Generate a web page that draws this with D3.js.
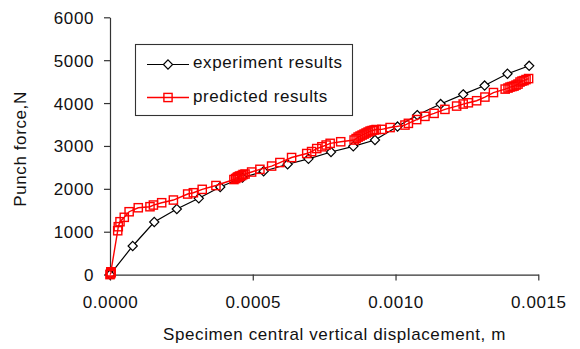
<!DOCTYPE html>
<html><head><meta charset="utf-8">
<script src="https://cdn.jsdelivr.net/npm/d3@7"></script>
<style>
html,body{margin:0;padding:0;background:#fff;}
svg{display:block;font-family:"Liberation Sans",Arial,sans-serif;}
text{fill:#111;font-size:17px;letter-spacing:0.6px;}
</style></head><body>
<svg id="c" width="580" height="349"></svg>
<script>
// Experiment results (displacement m, force N)
const expX = [0, 0.0000795, 0.000155, 0.000234, 0.000311, 0.000386, 0.000464, 0.000538, 0.000622, 0.000695,
  0.000774, 0.000852, 0.000928, 0.001007, 0.001076, 0.001158, 0.001237, 0.001312, 0.001392, 0.001468];
const expY = [0, 667, 1226, 1529, 1779, 2042, 2263, 2410, 2573, 2699,
  2858, 2991, 3138, 3452, 3720, 3977, 4203, 4408, 4683, 4869];

// Predicted results
const predX = [0, 0.000002, 0.000004, 0.000003, 0.000027, 0.000029, 0.000035, 0.000050, 0.000067, 0.000099, 0.000140,
  0.000152, 0.000181, 0.000222, 0.000272, 0.000292, 0.000323, 0.000371, 0.000434, 0.000440, 0.000445,
  0.000448, 0.000452, 0.000455, 0.000461, 0.000466, 0.000473, 0.000496, 0.000525, 0.000566, 0.000595,
  0.000636, 0.000689, 0.000706, 0.000724, 0.000742, 0.000757, 0.000771, 0.000808, 0.000855, 0.000862,
  0.000869, 0.000876, 0.000883, 0.000890, 0.000897, 0.000904, 0.000911, 0.000918, 0.000925, 0.000932,
  0.000952, 0.000981, 0.001033, 0.001045, 0.001074, 0.001103, 0.001135, 0.001173, 0.001214, 0.001237,
  0.001255, 0.001284, 0.001313, 0.001343, 0.001384, 0.001394, 0.001401, 0.001408, 0.001415, 0.001422,
  0.001429, 0.001436, 0.001443, 0.001450, 0.001457, 0.001466];
const predY = [0, 20, 45, 65, 1023, 1117, 1233, 1336, 1466, 1559, 1583,
  1622, 1676, 1739, 1879, 1909, 1988, 2077, 2217, 2240, 2263,
  2275, 2287, 2298, 2310, 2333, 2345, 2392, 2455, 2531, 2613,
  2730, 2823, 2869, 2939, 2981, 3021, 3061, 3098, 3138, 3172,
  3207, 3231, 3254, 3277, 3301, 3324, 3347, 3359, 3371, 3382,
  3387, 3429, 3487, 3527, 3615, 3690, 3760, 3853, 3930, 3977,
  4007, 4054, 4140, 4245, 4326, 4350, 4373, 4385, 4396, 4420,
  4443, 4490, 4513, 4524, 4548, 4571];

const xTicks = [0, 0.0005, 0.0010, 0.0015];
const yTicks = [0, 1000, 2000, 3000, 4000, 5000, 6000];
const seriesNames = ["experiment results", "predicted results"];
const xTitle = "Specimen central vertical displacement, m";
const yTitle = "Punch force,N";

const svg = d3.select("#c");
const x = d3.scaleLinear().domain([0, 0.0015]).range([110, 538.3]);
const y = d3.scaleLinear().domain([0, 6000]).range([274.6, 17.3]);

const ax = svg.append("g").attr("transform", `translate(0,${y(0)})`)
  .call(d3.axisBottom(x).tickValues(xTicks).tickFormat(d3.format(".4f")).tickSize(6).tickSizeOuter(0));
const ay = svg.append("g").attr("transform", `translate(${x(0)},0)`)
  .call(d3.axisLeft(y).tickValues(yTicks).tickFormat(d3.format("d")).tickSize(6).tickSizeOuter(0));
[ax, ay].forEach(g => {
  g.selectAll("path,line").attr("stroke", "#333").attr("stroke-width", 1.2);
  g.selectAll("text").attr("font-size", 17).attr("fill", "#111").attr("font-family", null);
});
ax.selectAll(".tick text").attr("y", 0).attr("dy", 0).attr("transform", "translate(0,33.7)");
ay.selectAll(".tick text").attr("x", -16).attr("dy", "0.35em");

svg.append("text").attr("x", 334.5).attr("y", 340).attr("text-anchor", "middle").text(xTitle);
svg.append("text").attr("transform", "translate(26,149) rotate(-90)").attr("text-anchor", "middle").text(yTitle);

const exp = expX.map((v, i) => [v, expY[i]]);
const pred = predX.map((v, i) => [v, predY[i]]);
const line = d3.line().x(d => x(d[0])).y(d => y(d[1]));

function drawDiamond(g, cx, cy) {
  const r = 4.6;
  g.append("path").attr("d", `M${cx},${cy - r}L${cx + r},${cy}L${cx},${cy + r}L${cx - r},${cy}Z`)
    .attr("fill", "#fff").attr("stroke", "#000").attr("stroke-width", 1.2);
}
function drawSquare(g, cx, cy) {
  const h = 4.1;
  g.append("rect").attr("x", cx - h).attr("y", cy - h).attr("width", 2 * h).attr("height", 2 * h)
    .attr("fill", "none").attr("stroke", "#f00").attr("stroke-width", 1.4);
}

svg.append("path").datum(exp).attr("d", line).attr("fill", "none").attr("stroke", "#000").attr("stroke-width", 1.2);
const gE = svg.append("g");
exp.forEach(d => drawDiamond(gE, x(d[0]), y(d[1])));

svg.append("path").datum(pred).attr("d", line).attr("fill", "none").attr("stroke", "#f00").attr("stroke-width", 1.4);
const gP = svg.append("g");
pred.forEach(d => drawSquare(gP, x(d[0]), y(d[1])));

// Legend
const lg = svg.append("g");
lg.append("rect").attr("x", 135.5).attr("y", 44.5).attr("width", 217).attr("height", 71)
  .attr("fill", "#fff").attr("stroke", "#333").attr("stroke-width", 1.1);
lg.append("line").attr("x1", 147).attr("x2", 189).attr("y1", 64.5).attr("y2", 64.5).attr("stroke", "#000").attr("stroke-width", 1.2);
drawDiamond(lg, 168, 64.5);
lg.append("text").attr("x", 193).attr("y", 68).text(seriesNames[0]);
lg.append("line").attr("x1", 147).attr("x2", 189).attr("y1", 97.5).attr("y2", 97.5).attr("stroke", "#f00").attr("stroke-width", 1.4);
drawSquare(lg, 168, 97.5);
lg.append("text").attr("x", 193).attr("y", 101.5).text(seriesNames[1]);
</script>
</body></html>
